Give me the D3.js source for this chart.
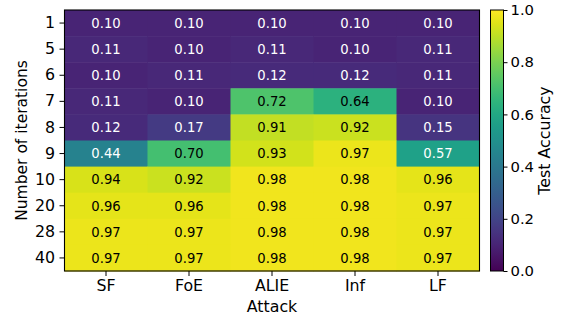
<!DOCTYPE html>
<html lang="en">
<head>
<meta charset="utf-8">
<title>Test accuracy heatmap</title>
<script src="https://cdn.jsdelivr.net/npm/d3@7"></script>
<style>
  body { margin: 0; background: #fff; }
  text { font-family: "DejaVu Sans", sans-serif; }
</style>
</head>
<body>
<div id="chart"></div>
<script>
var attacks = ["SF", "FoE", "ALIE", "Inf", "LF"];
var iterations = ["1", "5", "6", "7", "8", "9", "10", "20", "28", "40"];
// one row per iteration count, one value per attack
var accuracy = [
  [0.10, 0.10, 0.10, 0.10, 0.10],
  [0.11, 0.10, 0.11, 0.10, 0.11],
  [0.10, 0.11, 0.12, 0.12, 0.11],
  [0.11, 0.10, 0.72, 0.64, 0.10],
  [0.12, 0.17, 0.91, 0.92, 0.15],
  [0.44, 0.70, 0.93, 0.97, 0.57],
  [0.94, 0.92, 0.98, 0.98, 0.96],
  [0.96, 0.96, 0.98, 0.98, 0.97],
  [0.97, 0.97, 0.98, 0.98, 0.97],
  [0.97, 0.97, 0.98, 0.98, 0.97]
];
var cbTicks = [0, 0.2, 0.4, 0.6, 0.8, 1.0];

var width = 570, height = 317;
var plot = { left: 64.5, top: 10, right: 479.5, bottom: 271 };

var svg = d3.select("#chart").append("svg")
    .attr("width", width)
    .attr("height", height);

var x = d3.scaleBand().domain(attacks).range([plot.left, plot.right]);
var y = d3.scaleBand().domain(iterations).range([plot.top, plot.bottom]);
var color = d3.scaleSequential(d3.interpolateViridis).domain([0, 1]);

var cells = [];
accuracy.forEach(function(row, i) {
  row.forEach(function(v, j) {
    cells.push({ it: iterations[i], at: attacks[j], v: v });
  });
});

svg.append("g").selectAll("rect")
    .data(cells)
  .enter().append("rect")
    .attr("x", function(d) { return x(d.at); })
    .attr("y", function(d) { return y(d.it); })
    .attr("width", x.bandwidth() + 0.5)
    .attr("height", y.bandwidth() + 0.5)
    .attr("fill", function(d) { return color(d.v); });

svg.append("g").selectAll("text")
    .data(cells)
  .enter().append("text")
    .attr("x", function(d) { return x(d.at) + x.bandwidth() / 2; })
    .attr("y", function(d) { return y(d.it) + y.bandwidth() / 2; })
    .attr("dy", "0.36em")
    .attr("text-anchor", "middle")
    .attr("font-size", 13.2)
    .attr("fill", function(d) { return d.v > 0.6 ? "#000" : "#fff"; })
    .text(function(d) { return d.v.toFixed(2); });

// frame
svg.append("rect")
    .attr("x", plot.left).attr("y", plot.top)
    .attr("width", plot.right - plot.left).attr("height", plot.bottom - plot.top)
    .attr("fill", "none").attr("stroke", "#000").attr("stroke-width", 1.1);

var xAxis = svg.append("g")
    .attr("transform", "translate(0," + plot.bottom + ")")
    .call(d3.axisBottom(x).tickSize(5).tickPadding(3.5));
var yAxis = svg.append("g")
    .attr("transform", "translate(" + plot.left + ",0)")
    .call(d3.axisLeft(y).tickSize(5).tickPadding(4.5));

[xAxis, yAxis].forEach(function(a) {
  a.select(".domain").remove();
  a.selectAll("line").attr("stroke", "#000").attr("stroke-width", 1);
  a.selectAll("text").attr("font-size", 15.8).attr("fill", "#000")
      .style("font-family", "DejaVu Sans, sans-serif");
});

svg.append("text")
    .attr("x", (plot.left + plot.right) / 2)
    .attr("y", 312)
    .attr("text-anchor", "middle")
    .attr("font-size", 15.8)
    .text("Attack");

svg.append("text")
    .attr("transform", "translate(27," + ((plot.top + plot.bottom) / 2) + ") rotate(-90)")
    .attr("text-anchor", "middle")
    .attr("font-size", 15.5)
    .text("Number of iterations");

// colorbar
var cb = { left: 490.5, right: 503.5, top: plot.top, bottom: plot.bottom };
var cy = d3.scaleLinear().domain([0, 1]).range([cb.bottom, cb.top]);

var defs = svg.append("defs");
var grad = defs.append("linearGradient")
    .attr("id", "cbgrad")
    .attr("x1", 0).attr("y1", 1).attr("x2", 0).attr("y2", 0);
d3.range(0, 1.0001, 0.05).forEach(function(t) {
  grad.append("stop").attr("offset", t).attr("stop-color", color(t));
});

svg.append("rect")
    .attr("x", cb.left).attr("y", cb.top)
    .attr("width", cb.right - cb.left).attr("height", cb.bottom - cb.top)
    .attr("fill", "url(#cbgrad)")
    .attr("stroke", "#000").attr("stroke-width", 1);

var cbAxis = svg.append("g")
    .attr("transform", "translate(" + cb.right + ",0)")
    .call(d3.axisRight(cy).tickValues(cbTicks).tickFormat(d3.format(".1f")).tickSize(4).tickPadding(3));
cbAxis.select(".domain").remove();
cbAxis.selectAll("line").attr("stroke", "#000");
cbAxis.selectAll("text").attr("font-size", 14.8).attr("fill", "#000")
    .style("font-family", "DejaVu Sans, sans-serif");

svg.append("text")
    .attr("transform", "translate(550," + ((cb.top + cb.bottom) / 2) + ") rotate(-90)")
    .attr("text-anchor", "middle")
    .attr("font-size", 15.8)
    .text("Test Accuracy");
</script>
</body>
</html>
